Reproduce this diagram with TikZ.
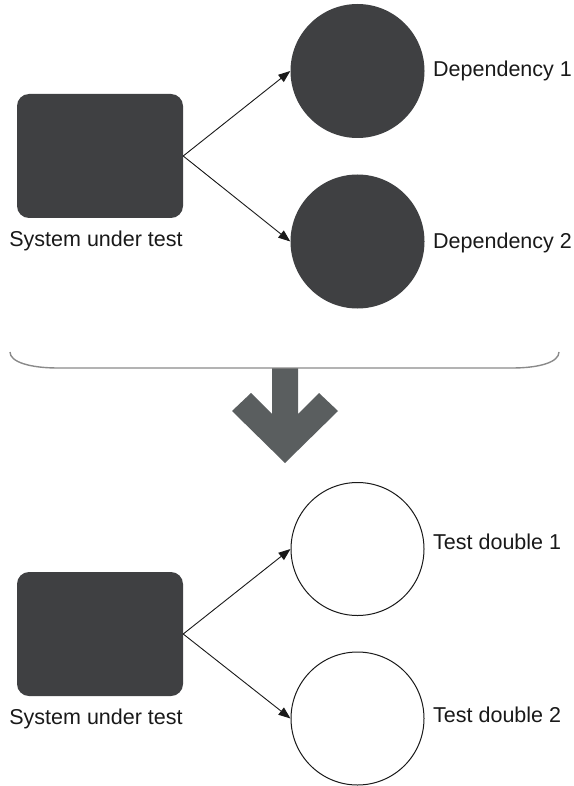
\documentclass[tikz,border=0pt]{standalone}
\usepackage{fontspec}
\setmainfont{Liberation Sans}
\usetikzlibrary{arrows.meta}
\definecolor{box grey}{HTML}{3F4042}
\definecolor{arrow grey}{HTML}{5A5E5F}
\definecolor{brace grey}{HTML}{8A8A8A}
\tikzset{
  sut/.style={fill=box grey, rounded corners=12pt, minimum width=166pt, minimum height=124pt, inner sep=0pt},
  dep/.style={circle, fill=box grey, minimum size=134pt, inner sep=0pt},
  stub/.style={circle, draw=black!90, line width=1pt, minimum size=133pt, inner sep=0pt},
  tag/.style={font=\fontsize{21.5}{25}\selectfont, text=black!90, inner sep=0pt},
  edge/.style={-{Triangle[length=12pt,width=9pt]}, line width=0.9pt, black!90}
}

\begin{document}
\begin{tikzpicture}[x=1pt,y=-1pt]
    \useasboundingbox (0,0) rectangle (573,786);
    % real dependencies
    \begin{scope}[yshift=0pt]
      \node[sut] (sut0) at (100,156) {};
      \node[dep] (dep1) at (357.5,71) {};
      \node[dep] (dep2) at (357.5,241.5) {};
      \node[tag,anchor=base] (lsut0) at (96,246) {System under test};
      \node[tag,anchor=base west] (ldep1) at (433,77) {Dependency 1};
      \node[tag,anchor=base west] (ldep2) at (433,248) {Dependency 2};
      \draw[edge] (sut0.east) -- (dep1.west);
      \draw[edge] (sut0.east) -- (dep2.west);
    \end{scope}
    % brace and block arrow
    \fill[arrow grey] (272,368) -- (298,368) -- (298,414) -- (319,393) -- (338,411)
      -- (285,463) -- (232,411) -- (251,393) -- (272,414) -- cycle;
    \draw[brace grey, line width=1.4pt] (10,352) .. controls (10,362) and (30,368) .. (58,368)
      -- (512,368) .. controls (540,368) and (559,362) .. (559,352);
    % test doubles
    \begin{scope}[yshift=-478pt]
      \node[sut] (sut1) at (100,156) {};
      \node[stub] (td1) at (357.5,71) {};
      \node[stub] (td2) at (357.5,240.5) {};
      \node[tag,anchor=base] (lsut1) at (96,246) {System under test};
      \node[tag,anchor=base west] (ltd1) at (433,71) {Test double 1};
      \node[tag,anchor=base west] (ltd2) at (433,244) {Test double 2};
      \draw[edge] (sut1.east) -- (td1.west);
      \draw[edge] (sut1.east) -- (td2.west);
    \end{scope}
  \end{tikzpicture}
\end{document}
